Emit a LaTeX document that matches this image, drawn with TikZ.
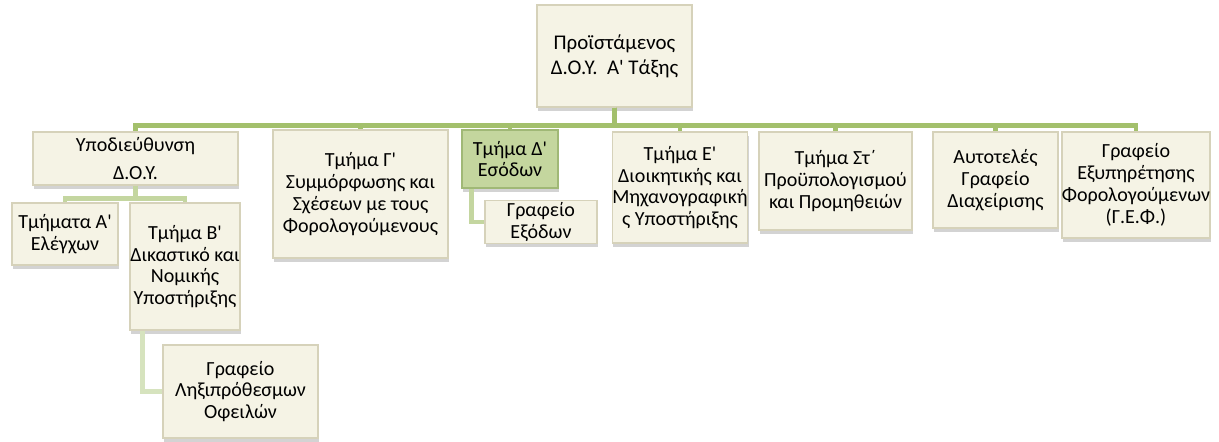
\documentclass[tikz,border=0pt]{standalone}
\usepackage{fontspec}
\setmainfont{Carlito}[Ligatures=TeXOff]
\usepackage{xcolor}
\usetikzlibrary{shadows}

\definecolor{kremkouti}{RGB}{245,243,229}
\definecolor{akrikouti}{RGB}{214,210,186}
\definecolor{prasinokouti}{RGB}{196,214,158}
\definecolor{akriprasino}{RGB}{160,184,118}
\definecolor{grammi1}{RGB}{163,192,108}
\definecolor{grammi2}{RGB}{196,214,160}
\definecolor{grammi3}{RGB}{214,227,190}

\begin{document}
\begin{tikzpicture}[
		kouti/.style={draw=akrikouti,line width=0.8pt,fill=kremkouti,align=center,inner xsep=0pt,inner ysep=1pt,
			drop shadow={shadow xshift=0.6pt,shadow yshift=-2pt,opacity=0.35},
			font=\fontsize{11.4}{12.4}\selectfont},
		prasino/.style={kouti,fill=prasinokouti,draw=akriprasino},
		kyria/.style={draw=grammi1,line width=2.8pt},
		deyteri/.style={draw=grammi2,line width=2.6pt},
		triti/.style={draw=grammi3,line width=2.6pt}
	]
		\useasboundingbox (0,0) rectangle (24.38,-8.82);

		\node[kouti,minimum width=3.10cm,minimum height=2.04cm,font=\fontsize{11.9}{14.4}\selectfont] (proist) at (12.29,-1.12)
			{Προϊστάμενος\\Δ.Ο.Υ.\ \ Α' Τάξης};

		\node[kouti,minimum width=4.10cm,minimum height=1.06cm] (ypod) at (2.71,-3.17)
			{Υποδιεύθυνση\\[4pt]Δ.Ο.Υ.};
		\node[kouti,minimum width=2.12cm,minimum height=1.24cm] (tmA) at (1.30,-4.68)
			{Τμήματα Α'\\Ελέγχων};
		\node[kouti,minimum width=2.20cm,minimum height=2.54cm] (tmB) at (3.70,-5.33)
			{Τμήμα Β'\\Δικαστικό και\\Νομικής\\Υποστήριξης};
		\node[kouti,minimum width=3.10cm,minimum height=1.86cm] (lixi) at (4.81,-7.83)
			{Γραφείο\\Ληξιπρόθεσμων\\Οφειλών};

		\node[kouti,minimum width=3.50cm,minimum height=2.56cm] (tmG) at (7.21,-3.88)
			{Τμήμα Γ'\\Συμμόρφωσης και\\Σχέσεων με τους\\Φορολογούμενους};

		\node[prasino,minimum width=1.92cm,minimum height=1.16cm] (tmD) at (10.20,-3.18)
			{Τμήμα Δ'\\Εσόδων};
		\node[kouti,minimum width=2.24cm,minimum height=0.80cm] (exod) at (10.82,-4.44)
			{Γραφείο\\Εξόδων};

		\node[kouti,minimum width=2.68cm,minimum height=2.22cm] (tmE) at (13.60,-3.75)
			{Τμήμα Ε'\\Διοικητικής και\\Μηχανογραφική\\ς Υποστήριξης};
		\node[kouti,minimum width=3.06cm,minimum height=1.96cm] (tmSt) at (16.71,-3.62)
			{Τμήμα Στ΄\\Προϋπολογισμού\\και Προμηθειών};
		\node[kouti,minimum width=2.50cm,minimum height=1.92cm] (autot) at (19.91,-3.60)
			{Αυτοτελές\\Γραφείο\\Διαχείρισης};
		\node[kouti,minimum width=2.84cm,minimum height=2.12cm] (gef) at (22.72,-3.70)
			{Γραφείο\\Εξυπηρέτησης\\Φορολογούμενων\\(Γ.Ε.Φ.)};

		\foreach \paidi in {ypod,tmG,tmD,tmE,tmSt,autot,gef}
			\draw[kyria] (proist.south) -- ++(0,-0.36) -| (\paidi.north);

		\draw[deyteri] (ypod.south) -- ++(0,-0.26) -| (tmA.north);
		\draw[deyteri] (ypod.south) -- ++(0,-0.26) -| (tmB.north);
		\draw[deyteri] ([xshift=0.2cm]tmD.south west) |- (exod.west);
		\draw[triti] ([xshift=0.26cm]tmB.south west) |- (lixi.west);
\end{tikzpicture}
\end{document}
